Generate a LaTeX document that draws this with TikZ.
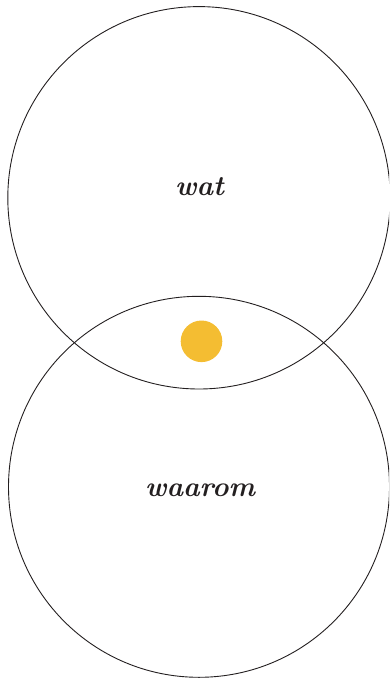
\documentclass[tikz,border=0pt]{standalone}
\definecolor{dotyellow}{HTML}{F4BD32}
\definecolor{ink}{HTML}{231F20}
\tikzset{
  ring/.style={circle, draw=ink, line width=0.9pt, inner sep=0pt, minimum size=#1},
  label/.style={text=ink, anchor=base, inner sep=0pt, font=\fontsize{28}{32}\selectfont\bfseries\itshape},
  blob/.style={circle, fill=dotyellow, draw=none, inner sep=0pt, minimum size=41.6pt}
}
\begin{document}
\begin{tikzpicture}[x=1pt,y=-1pt]
\useasboundingbox (0,0) rectangle (389,680);
\clip (0,0) rectangle (389,680);
\node[ring=382.4pt] (top) at (199,197.8) {};
\node[ring=381pt] (bottom) at (199,486.8) {};
\node[blob] (dot) at (201.5,341.3) {};
\node[label] (wat) at (199.5,195) {wat};
\node[label] (waarom) at (200,496) {waarom};
\end{tikzpicture}
\end{document}
